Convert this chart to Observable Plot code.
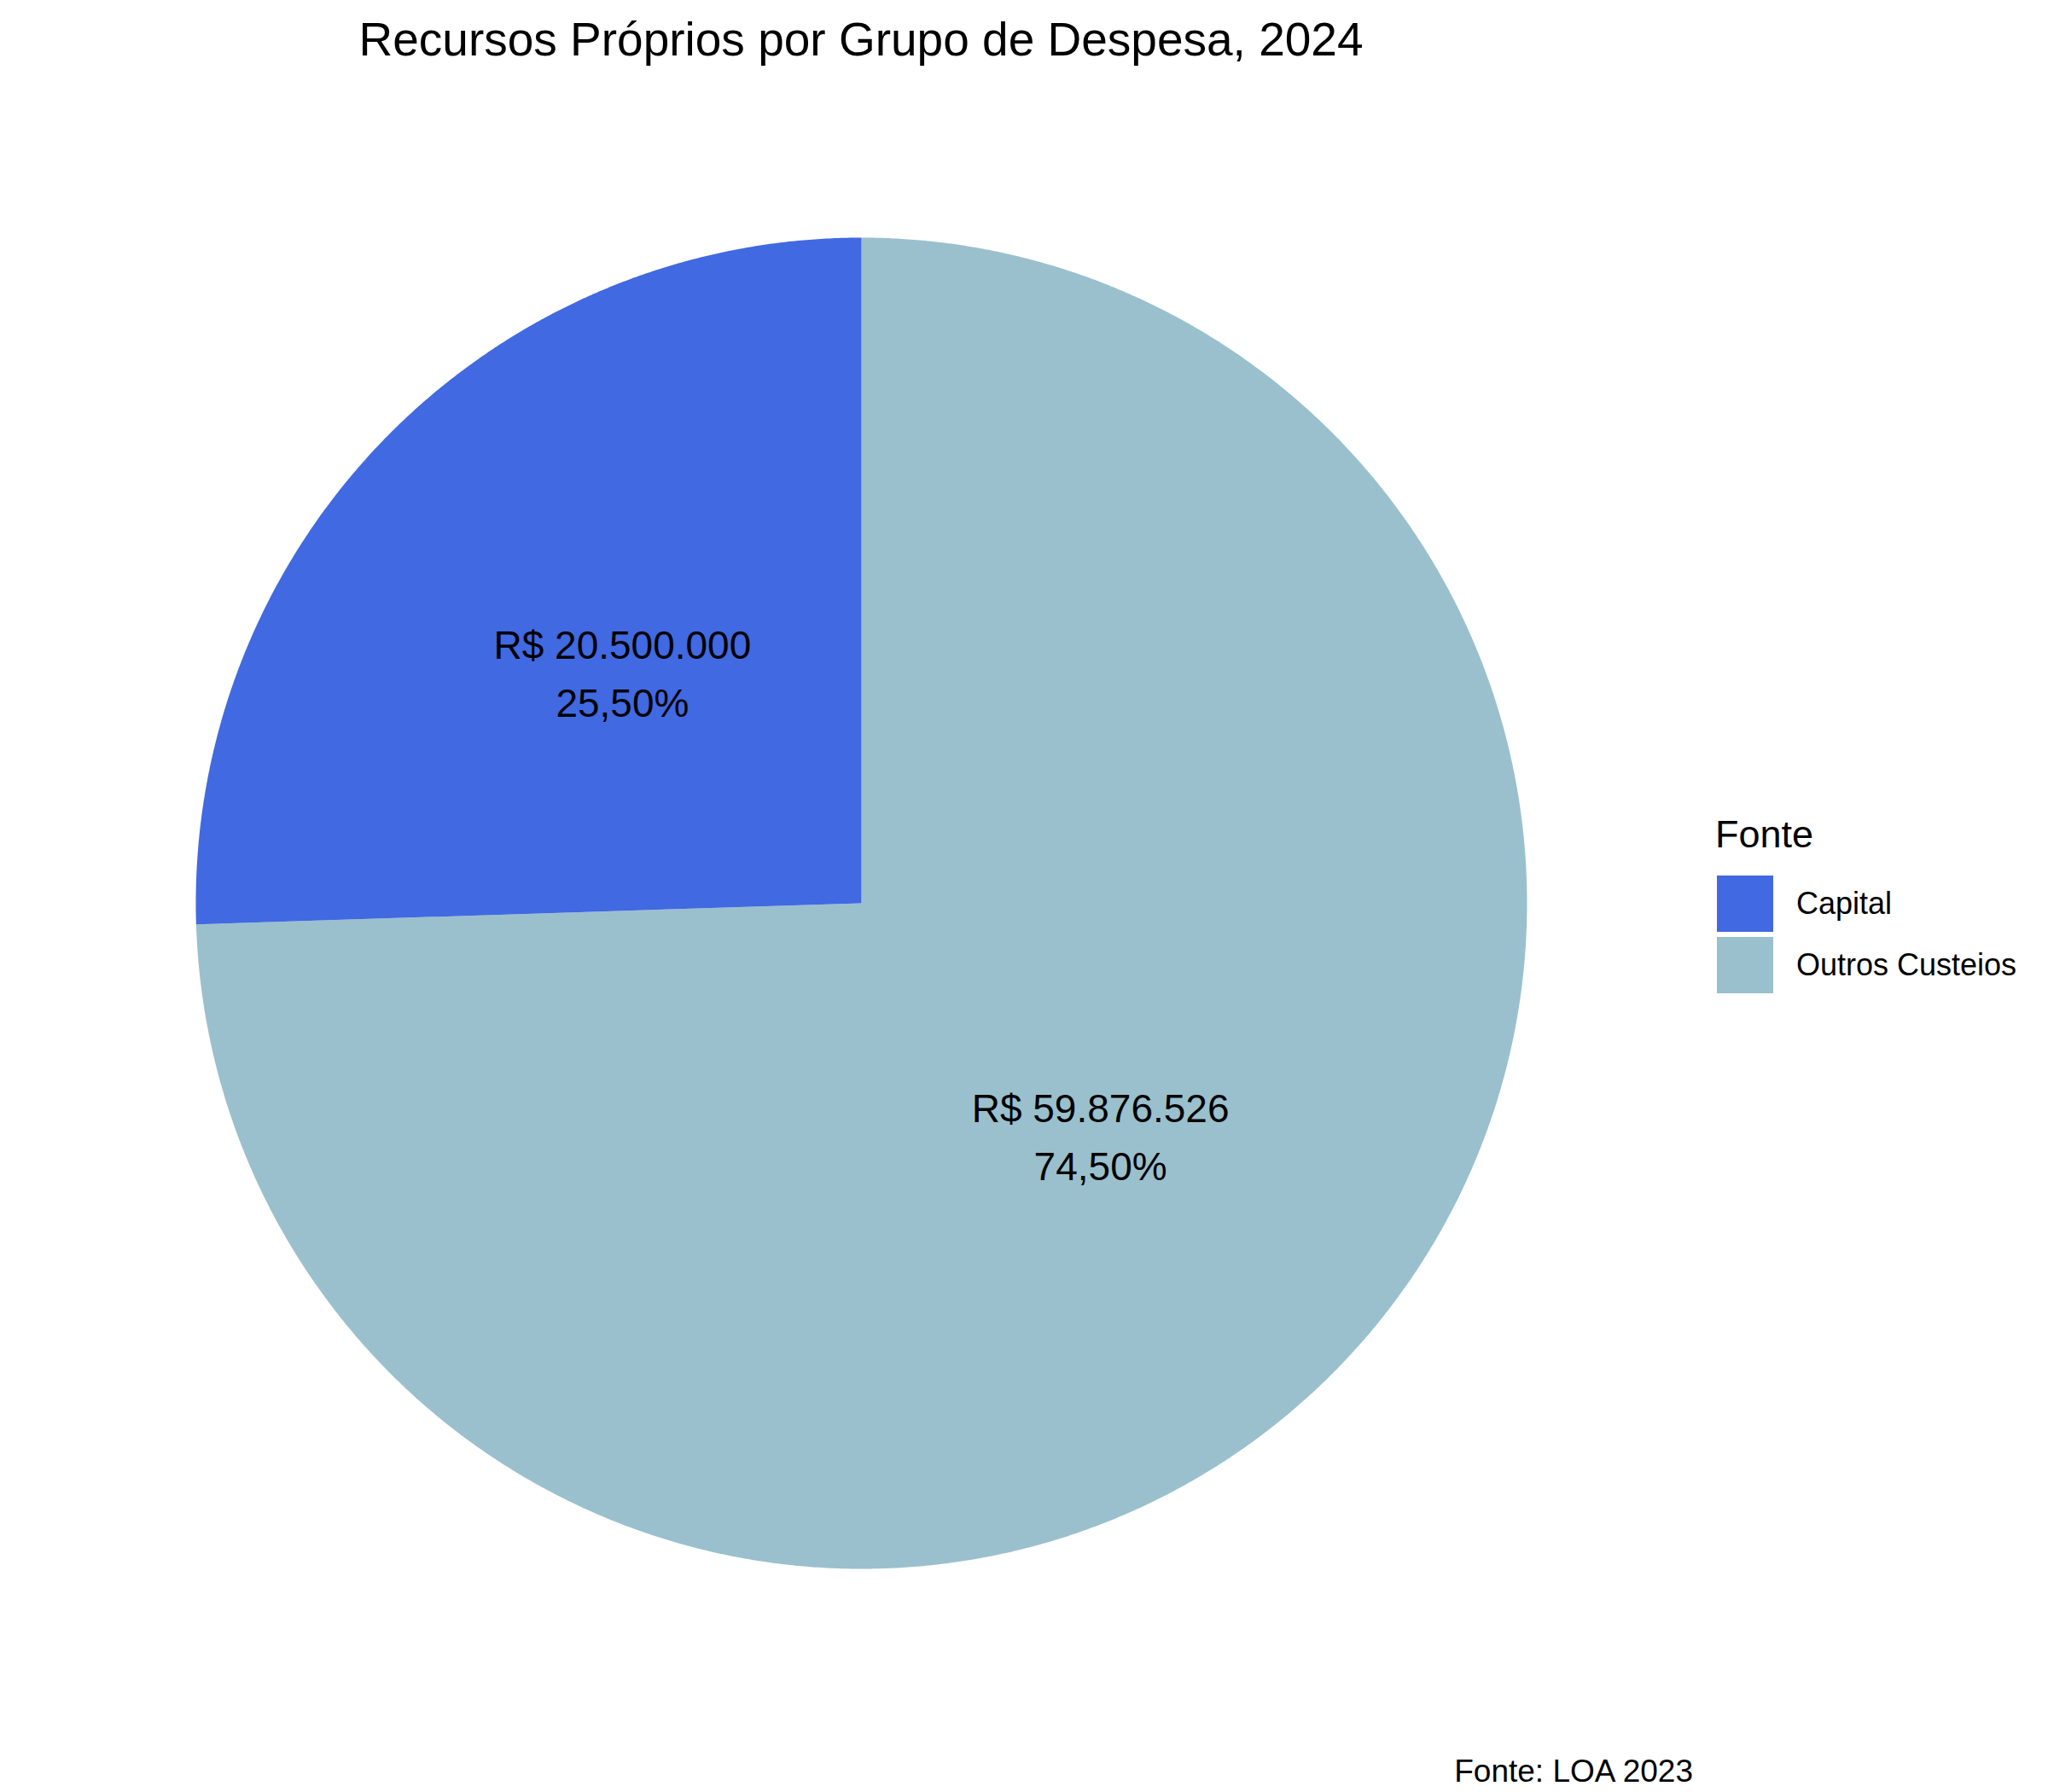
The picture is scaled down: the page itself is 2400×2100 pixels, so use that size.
<!DOCTYPE html>
<html>
<head>
<meta charset="utf-8">
<script src="https://cdn.jsdelivr.net/npm/d3@7"></script>
<script src="https://cdn.jsdelivr.net/npm/@observablehq/plot@0.6"></script>
<style>
  html, body { margin: 0; padding: 0; background: #fff; }
  #wrap { position: relative; width: 2400px; height: 2100px; font-family: "Liberation Sans", Arial, sans-serif; color: #000; }
  #wrap svg.plot { position: absolute; left: 0; top: 0; }
  .title { position: absolute; left: 0; width: 2018px; top: 19px; font-size: 55px; line-height: 55px; text-align: center; white-space: nowrap; }
  .caption { position: absolute; right: 416px; top: 2057px; font-size: 37px; line-height: 37px; white-space: nowrap; }
  .legend-title { position: absolute; left: 2010px; top: 955px; font-size: 45px; line-height: 45px; white-space: nowrap; }
  .legend-box { position: absolute; left: 2012px; top: 1026px; }
  .lg-swatches { font-family: "Liberation Sans", Arial, sans-serif !important; font-size: 36px !important; margin: 0 !important; color: #000; }
  .lg-swatch { padding-bottom: 6px !important; }
  .lg-swatch > svg { margin-right: 27px !important; }
</style>
</head>
<body>
<div id="wrap">
  <div class="title">Recursos Próprios por Grupo de Despesa, 2024</div>
  <div class="legend-title">Fonte</div>
  <div class="legend-box" id="legend"></div>
  <div class="caption">Fonte: LOA 2023</div>
</div>
<script>
// ---- data ----
const categories = ["Capital", "Outros Custeios"];
const values = [20500000, 59876526];
const colors = ["#4169E1", "#9AC0CD"];
// drawing order clockwise from 12 o'clock
const sliceOrder = ["Outros Custeios", "Capital"];

// ---- derived tables ----
const total = d3.sum(values);
const rows = sliceOrder.map(name => {
  const i = categories.indexOf(name);
  return { name, value: values[i] };
});
const arcs = d3.pie().sort(null).value(d => d.value)(rows);

const polyPoints = [];
for (const a of arcs) {
  const n = Math.max(2, Math.ceil((a.endAngle - a.startAngle) / (Math.PI / 720)));
  polyPoints.push({ name: a.data.name, px: 0, py: 0 });
  for (let k = 0; k <= n; k++) {
    const t = a.startAngle + (a.endAngle - a.startAngle) * k / n;
    polyPoints.push({ name: a.data.name, px: Math.sin(t), py: Math.cos(t) });
  }
}

const labels = arcs.map(a => {
  const mid = (a.startAngle + a.endAngle) / 2;
  const pct = (a.data.value / total * 100).toFixed(2).replace(".", ",");
  return {
    name: a.data.name,
    px: 0.5 * Math.sin(mid),
    py: 0.5 * Math.cos(mid),
    text: "R$ " + a.data.value.toLocaleString("pt-BR") + "\n" + pct + "%"
  };
});

const colorScale = { type: "ordinal", domain: categories, range: colors };

const chart = Plot.plot({
  width: 2400,
  height: 2100,
  marginLeft: 229,
  marginRight: 611,
  marginTop: 278,
  marginBottom: 262,
  x: { domain: [-1, 1], axis: null },
  y: { domain: [-1, 1], axis: null },
  color: colorScale,
  style: { fontFamily: "Liberation Sans, Arial, sans-serif", background: "transparent" },
  marks: [
    Plot.line(polyPoints, {
      x: "px", y: "py", z: "name", fill: "name", stroke: "none",
      curve: "linear-closed"
    }),
    Plot.text(labels, {
      x: "px", y: "py", text: "text",
      fontSize: 46, lineHeight: 1.48, fill: "#000", dy: -3
    })
  ]
});
chart.classList.add("plot");
document.getElementById("wrap").prepend(chart);

const legend = Plot.legend({
  color: colorScale,
  legend: "swatches",
  columns: 1,
  swatchSize: 66,
  className: "lg"
});
document.getElementById("legend").appendChild(legend);
</script>
</body>
</html>
